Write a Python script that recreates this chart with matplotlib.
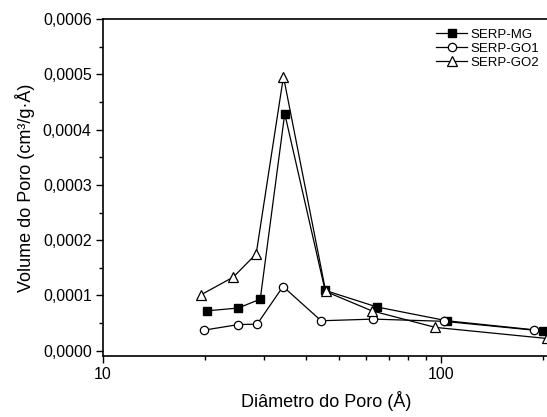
import numpy as np
import matplotlib.pyplot as plt
from matplotlib.ticker import FuncFormatter, MultipleLocator, LogLocator, NullFormatter

plt.rcParams['font.family'] = ['Liberation Sans', 'DejaVu Sans']

# SERP-MG
d_mg = [20.3, 25.1, 29.2, 34.5, 45.4, 64.6, 104, 200]
v_mg = [7.2e-5, 7.7e-5, 9.3e-5, 4.29e-4, 1.09e-4, 7.9e-5, 5.4e-5, 3.6e-5]
# SERP-GO1
d_go1 = [19.9, 25.1, 28.6, 34.1, 44.2, 63.1, 102, 188]
v_go1 = [3.7e-5, 4.7e-5, 4.8e-5, 1.16e-4, 5.4e-5, 5.7e-5, 5.3e-5, 3.7e-5]
# SERP-GO2
d_go2 = [19.5, 24.3, 28.4, 34.2, 45.6, 62.4, 96.2, 205]
v_go2 = [1.01e-4, 1.33e-4, 1.75e-4, 4.96e-4, 1.07e-4, 7.2e-5, 4.2e-5, 2.2e-5]

fig = plt.figure(figsize=(5.47, 4.17), dpi=100)
ax = fig.add_axes([0.188, 0.146, 0.815, 0.808])

ax.plot(d_mg, v_mg, 'k-', lw=0.9, marker='s', ms=5.5, mfc='black', mec='black', label='SERP-MG')
ax.plot(d_go1, v_go1, 'k-', lw=0.9, marker='o', ms=6, mfc='white', mec='black', mew=0.9, label='SERP-GO1')
ax.plot(d_go2, v_go2, 'k-', lw=0.9, marker='^', ms=6.5, mfc='white', mec='black', mew=0.9, label='SERP-GO2')

ax.set_xscale('log')
ax.set_xlim(10, 208)
ax.set_ylim(-0.00001, 0.0006)
ax.yaxis.set_major_locator(MultipleLocator(0.0001))
ax.yaxis.set_minor_locator(MultipleLocator(0.00005))
ax.yaxis.set_major_formatter(FuncFormatter(lambda v, p: ('%.4f' % v).replace('.', ',').replace('-0,0000', '0,0000')))
ax.xaxis.set_major_locator(LogLocator(base=10))
ax.xaxis.set_minor_locator(LogLocator(base=10, subs=np.arange(2, 10)))
ax.xaxis.set_minor_formatter(NullFormatter())
ax.xaxis.set_major_formatter(FuncFormatter(lambda v, p: '%d' % v))

for s in ['left', 'bottom', 'top']:
    ax.spines[s].set_linewidth(1.2)
ax.spines['right'].set_visible(False)
ax.tick_params(which='major', direction='out', length=5, width=1, labelsize=11.5, colors='black', pad=3)
ax.tick_params(which='minor', direction='out', length=3, width=1)

ax.set_xlabel('Diâmetro do Poro (Å)', fontsize=13, labelpad=6)
ax.set_ylabel('Volume do Poro (cm³/g·Å)', fontsize=13, labelpad=6)

ax.legend(loc='upper right', frameon=False, fontsize=9.5, handlelength=2.3,
          handletextpad=0.3, labelspacing=0.15, borderaxespad=0.3)

fig.savefig('out.png', dpi=100)
